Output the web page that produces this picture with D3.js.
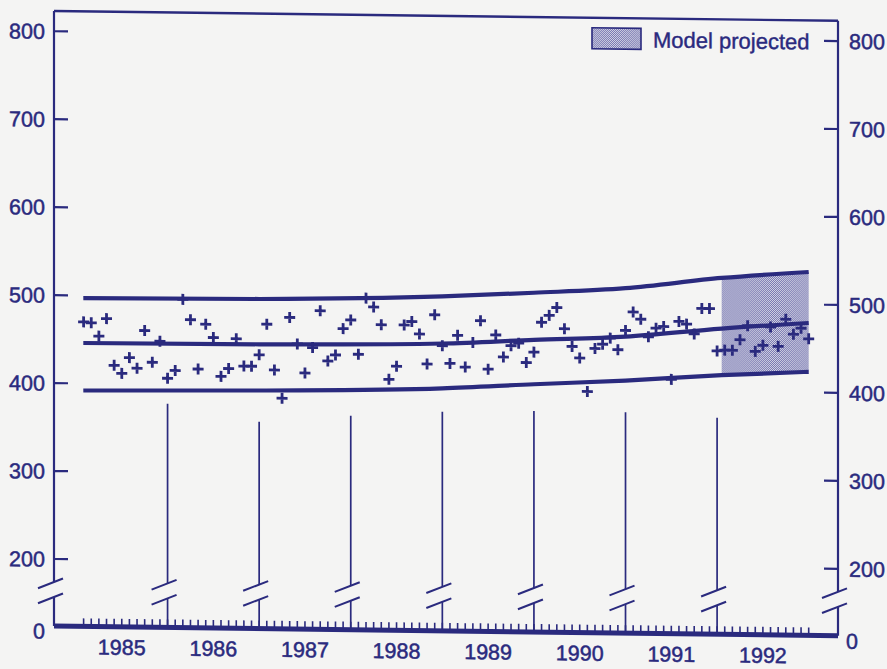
<!DOCTYPE html>
<html><head><meta charset="utf-8">
<script src="https://cdn.jsdelivr.net/npm/d3@7"></script>
<style>html,body{margin:0;padding:0;background:#f4f4f3;} svg{display:block}</style>
</head><body><svg id="chart" width="887" height="669"></svg>
<script>
// ---------- data ----------
const years = [1985, 1986, 1987, 1988, 1989, 1990, 1991, 1992];
const yTicks = [200, 300, 400, 500, 600, 700, 800];
// monthly observations, Jan 1985 .. Dec 1992
const values = [470,469,454,474,421,412,430,418,461,425,
                449,407,416,497,474,418,469,454,410,419,
                453,422,422,435,470,418,386,478,448,415,
                444,486,429,436,466,476,437,501,491,471,
                409,424,471,475,461,427,483,448,428,460,
                424,452,477,422,461,436,449,452,430,442,
                476,484,493,469,449,436,398,447,452,459,
                446,468,489,481,461,471,473,413,479,476,
                465,494,494,446,447,447,459,475,446,453,
                474,452,483,466,473,461];
// trend line and band limits (knots in decimal years)
const bandT     = [1985.08, 1987.0, 1989.0, 1990.0, 1991.0, 1992.05, 1993.0];
const upperBand = [497, 498.5, 504, 509.5, 516, 529, 537];
const trend     = [446, 447, 450.5, 456, 461, 471.5, 479];
const lowerBand = [392, 394.5, 399.5, 405.5, 411, 418.5, 423.5];
const projStart = 1992.05, projEnd = 1993.0;
const yearLines = [1986, 1987, 1988, 1989, 1990, 1991, 1992];
const yearLineTops = [378, 359, 367, 373, 375, 375, 370];
const legendLabel = "Model projected";

// ---------- drawing ----------
const W = 887, H = 669;
const ink = "#2a2a7e";
const font = "'Liberation Sans', Arial, Helvetica, sans-serif";
const svg = d3.select("#chart");
svg.append("rect").attr("width", W).attr("height", H).attr("fill", "#f4f4f3");

const defs = svg.append("defs");
const pat = defs.append("pattern").attr("id", "stipple")
  .attr("width", 2).attr("height", 2).attr("patternUnits", "userSpaceOnUse");
pat.append("rect").attr("width", 2).attr("height", 2).attr("fill", "#e0e0ea");
pat.append("rect").attr("width", 1).attr("height", 1).attr("fill", "#6a6aaa");
pat.append("rect").attr("x", 1).attr("y", 1).attr("width", 1).attr("height", 1).attr("fill", "#6a6aaa");

const k = 0.0125, skewDeg = Math.atan(k) * 180 / Math.PI;
const g = svg.append("g").attr("transform", `translate(0,${-54 * k}) skewY(${skewDeg})`);

const x = d3.scaleLinear().domain([1984.76, 1993.32]).range([54, 838]);
const y = d3.scaleLinear().domain([0, 200, 823]).range([626, 559, 11]);
const x0 = x.range()[0], x1 = x.range()[1];
const yTop = y(823), yBase = y(0);
const brkUp = yBase - 44, brkLo = yBase - 29;
const curve = d3.curveMonotoneX;

// shaded projection region
const bandData = bandT.map((t, i) => ({t, lo: lowerBand[i], hi: upperBand[i], mid: trend[i]}));
const projData = bandData.filter(d => d.t >= projStart && d.t <= projEnd);
g.append("path").datum(projData)
  .attr("d", d3.area().x(d => x(d.t)).y0(d => y(d.lo)).y1(d => y(d.hi)))
  .attr("fill", "url(#stipple)");

// frame
const frame = g.append("g").attr("fill", "none").attr("stroke", ink);
frame.append("path").attr("d", `M${x0},${yTop}H${x1}`).attr("stroke-width", 2.4);
[x0, x1].forEach(xx => {
  frame.append("path").attr("d", `M${xx},${yTop}V${brkUp}M${xx},${brkLo}V${yBase}`).attr("stroke-width", 2.2);
});
// year separator lines
yearLines.forEach((yr, i) => {
  const xx = x(yr);
  frame.append("path").attr("d", `M${xx},${y(yearLineTops[i])}V${brkUp}M${xx},${brkLo}V${yBase}`).attr("stroke-width", 1.7);
});
// break slashes
[x0, x1, ...yearLines.map(x)].forEach(xx => {
  [brkUp, brkLo].forEach(c => {
    frame.append("path").attr("d", `M${xx - 16},${c + 6.4}L${xx + 9},${c - 3.6}`).attr("stroke-width", 2);
  });
});
// monthly minor ticks
const monthT = d3.range(1, 97).map(m => 1985 + m / 12);
frame.selectAll(".mt").data(monthT).join("path")
  .attr("d", t => `M${x(t)},${yBase}V${yBase - 8}`).attr("stroke-width", 1.6);
// baseline
frame.append("path").attr("d", `M${x0},${yBase}H${x1}`).attr("stroke-width", 5);

// y axis ticks & labels
yTicks.forEach(v => {
  frame.append("path").attr("d", `M${x0},${y(v)}H${x0 + 14}`).attr("stroke-width", 2.2);
  frame.append("path").attr("d", `M${x1 - 14},${y(v)}H${x1}`).attr("stroke-width", 2.2);
});
const lab = g.append("g").attr("fill", ink).attr("stroke", ink).attr("stroke-width", 0.5)
  .attr("font-family", font).attr("font-size", 21.5);
yTicks.forEach(v => {
  lab.append("text").attr("x", x0 - 9).attr("y", y(v)).attr("dy", "0.36em").attr("text-anchor", "end").text(v);
  lab.append("text").attr("x", x1 + 11).attr("y", y(v)).attr("dy", "0.36em").text(v);
});
lab.append("text").attr("x", x0 - 9).attr("y", yBase + 5).attr("dy", "0.36em").attr("text-anchor", "end").text(0);
lab.append("text").attr("x", x1 + 8).attr("y", yBase + 5).attr("dy", "0.36em").text(0);
years.forEach(yr => {
  lab.append("text").attr("x", x(yr + 0.5)).attr("y", 654).attr("text-anchor", "middle").text(yr);
});

// band and trend lines
const line = d3.line().curve(curve).x(d => x(d.t)).y(d => y(d.v));
[upperBand, trend, lowerBand].forEach(arr => {
  g.append("path").datum(bandT.map((t, i) => ({t, v: arr[i]})))
    .attr("d", line).attr("fill", "none").attr("stroke", ink).attr("stroke-width", 4.2);
});

// observations
g.append("g").selectAll("path").data(values).join("path")
  .attr("transform", (v, i) => `translate(${x(1985 + (i + 1) / 12)},${y(v)})`)
  .attr("d", "M-5.5,0H5.5M0,-5.5V5.5")
  .attr("stroke", ink).attr("stroke-width", 2.8).attr("fill", "none");

// legend
g.append("rect").attr("x", 592).attr("y", 21).attr("width", 49).attr("height", 21)
  .attr("fill", "url(#stipple)").attr("stroke", ink).attr("stroke-width", 1.6);
g.append("text").attr("x", 653).attr("y", 40).attr("fill", ink).attr("stroke", ink).attr("stroke-width", 0.4)
  .attr("font-family", font).attr("font-size", 22).text(legendLabel);
</script>
</body></html>
